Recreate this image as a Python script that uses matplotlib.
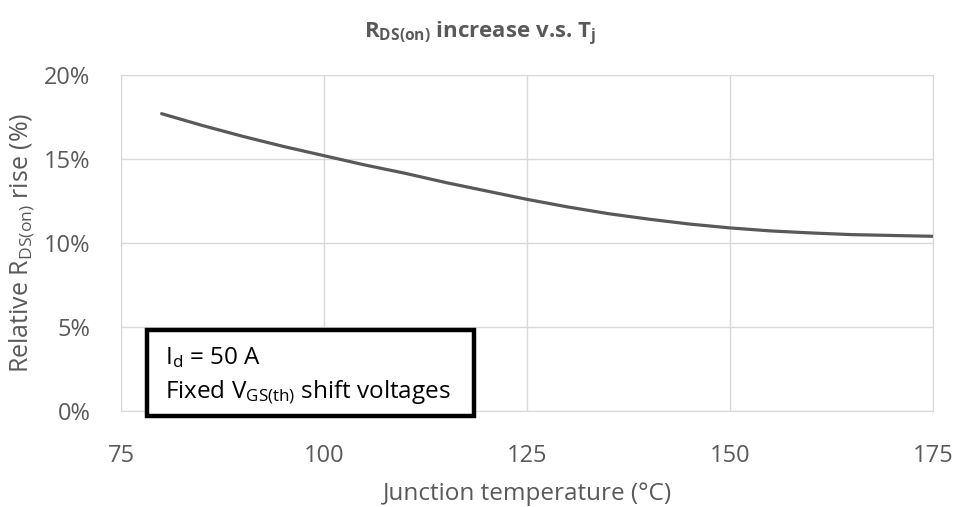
import matplotlib
matplotlib.use('Agg')
import matplotlib.pyplot as plt
from matplotlib.patches import Rectangle

# junction temperature (°C) and relative RDS(on) rise (%)
temps = [80, 85, 90, 95, 100, 105, 110, 115, 120, 125, 130, 135, 140,
         145, 150, 155, 160, 165, 170, 175]
rise = [17.7, 17.0, 16.35, 15.75, 15.2, 14.65, 14.15, 13.6, 13.1, 12.6,
        12.15, 11.75, 11.42, 11.13, 10.9, 10.72, 10.6, 10.5, 10.45, 10.4]

xticks = [75, 100, 125, 150, 175]
yticks = [0, 5, 10, 15, 20]

plt.rcParams['font.family'] = 'Open Sans'
plt.rcParams['mathtext.default'] = 'regular'

grey = '#595959'
gridc = '#d9d9d9'

fig = plt.figure(figsize=(9.61, 5.07), dpi=100)
ax = fig.add_axes([0.1259, 0.1893, 0.845, 0.6627])

ax.plot(temps, rise, color=grey, lw=2.3, solid_capstyle='round')

ax.set_xlim(75, 175)
ax.set_ylim(0, 20)
ax.set_xticks(xticks)
ax.set_yticks(yticks)
ax.set_yticklabels(['%d%%' % v for v in yticks])
ax.grid(True, color=gridc, lw=1)
ax.set_axisbelow(True)
for s in ax.spines.values():
    s.set_color(gridc)
ax.tick_params(length=0, labelsize=17, labelcolor=grey)
ax.tick_params(axis='x', pad=24)
ax.tick_params(axis='y', pad=22)

ax.set_xlabel('Junction temperature (°C)', fontsize=17.5, color=grey, labelpad=10)
ax.set_ylabel(r'Relative R$_{DS(on)}$ rise (%)', fontsize=18, color=grey, labelpad=6)
fig.suptitle(r'R$_{DS(on)}$ increase v.s. T$_{j}$', fontsize=16, fontweight='bold',
             color=grey, y=0.96)

# annotation box
box = Rectangle((0.032, -0.015), 0.403, 0.256, transform=ax.transAxes,
                facecolor='white', edgecolor='black', lw=3.2, clip_on=False, zorder=5)
ax.add_patch(box)
ax.text(0.054, 0.16, r'I$_{d}$ = 50 A', transform=ax.transAxes, fontsize=17.5,
        color='black', va='center', zorder=6)
ax.text(0.054, 0.055, r'Fixed V$_{GS(th)}$ shift voltages', transform=ax.transAxes,
        fontsize=17.5, color='black', va='center', zorder=6)

fig.savefig('out.png', dpi=100)
